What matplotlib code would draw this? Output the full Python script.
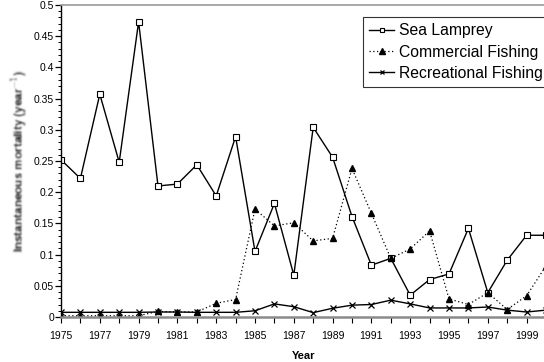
import numpy as np
import matplotlib
matplotlib.use("Agg")
import matplotlib.pyplot as plt
from matplotlib.ticker import MultipleLocator, FuncFormatter

plt.rcParams['font.family'] = ['Liberation Sans', 'DejaVu Sans']

years = list(range(1975, 2001))
sea_lamprey = [0.252, 0.222, 0.357, 0.248, 0.473, 0.210, 0.213, 0.244, 0.194, 0.289,
               0.105, 0.182, 0.067, 0.304, 0.256, 0.161, 0.083, 0.094, 0.035, 0.060,
               0.069, 0.142, 0.039, 0.091, 0.131, 0.131]
commercial = [0.002, 0.002, 0.002, 0.002, 0.002, 0.009, 0.008, 0.008, 0.022, 0.028,
              0.173, 0.146, 0.151, 0.122, 0.126, 0.238, 0.166, 0.094, 0.109, 0.138,
              0.029, 0.020, 0.039, 0.012, 0.034, 0.082]
recreational = [0.0075, 0.0075, 0.0075, 0.0075, 0.0075, 0.008, 0.008, 0.0075, 0.0075, 0.0075,
                0.010, 0.021, 0.0165, 0.007, 0.014, 0.019, 0.020, 0.027, 0.021, 0.0145,
                0.0145, 0.0145, 0.016, 0.011, 0.008, 0.011]


def soft_blur(im, dpi):
    # small separable gaussian applied to a rendered artist
    pad = 5
    a = np.pad(im, ((pad, pad), (pad, pad), (0, 0)))
    x = np.arange(-pad, pad + 1)
    k = np.exp(-x ** 2 / (2 * 1.0 ** 2))
    k /= k.sum()
    a = np.apply_along_axis(lambda v: np.convolve(v, k, mode='same'), 0, a)
    a = np.apply_along_axis(lambda v: np.convolve(v, k, mode='same'), 1, a)
    return a, -pad, -pad


fig = plt.figure(figsize=(5.44, 3.62), dpi=100)
ax = fig.add_axes([61 / 544, 45 / 362, 485 / 544, 312 / 362])

ax.plot(years, sea_lamprey, color='black', lw=1, marker='s', ms=4,
        mfc='white', mec='black', mew=0.8, label='Sea Lamprey')
ax.plot(years, commercial, color='black', lw=0.9, ls=(0, (1, 2)), marker='^', ms=5,
        mfc='black', mec='black', label='Commercial Fishing')
ax.plot(years, recreational, color='black', lw=1, marker='x', ms=4,
        mew=0.9, label='Recreational Fishing')

ax.set_xlim(1975, 2000)
ax.set_ylim(0, 0.5)

ax.set_xticks(years)
ax.set_xticklabels([str(y) if (y - 1975) % 2 == 0 and y < 2000 else '' for y in years])
ax.yaxis.set_major_locator(MultipleLocator(0.05))
ax.yaxis.set_minor_locator(MultipleLocator(0.01))
ax.yaxis.set_major_formatter(FuncFormatter(lambda v, pos: '%g' % round(v, 2)))
ax.tick_params(axis='x', length=4, width=0.8, pad=6, labelsize=7.5, colors='black')
ax.tick_params(axis='y', which='major', length=4, width=0.9, pad=1, labelsize=7.5)
ax.tick_params(axis='y', which='minor', length=2, width=0.7)

ax.spines['right'].set_visible(False)
ax.spines['top'].set_color('#9a9a9a')
ax.spines['top'].set_linewidth(1.2)
ax.spines['bottom'].set_color('#8a8a8a')
ax.spines['bottom'].set_linewidth(1.8)
ax.spines['left'].set_color('black')
ax.spines['left'].set_linewidth(1)

ax.set_xlabel('Year', fontsize=8, fontweight='bold', labelpad=7)
ylab = ax.set_ylabel('Instantaneous mortality (year$^{-1}$)', fontsize=8.5,
                     fontweight='bold', color='black', labelpad=3)
ylab.set_agg_filter(soft_blur)

leg = fig.legend(loc='upper left', bbox_to_anchor=(363 / 544, 1 - 17 / 362),
                 bbox_transform=fig.transFigure, borderaxespad=0, fontsize=11.3,
                 frameon=True, fancybox=False, edgecolor='black', handlelength=1.6,
                 handletextpad=0.3, borderpad=0.4, labelspacing=0.4, markerscale=0.8)
leg.get_frame().set_linewidth(0.8)

fig.savefig('out.png', dpi=100)
